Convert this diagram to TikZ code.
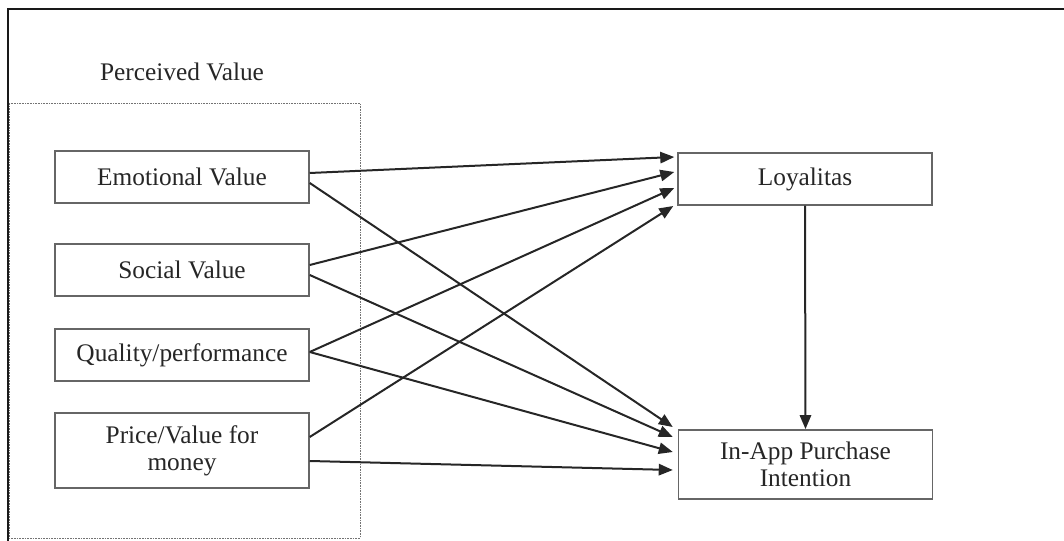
\documentclass[tikz,border=0pt]{standalone}
\usepackage{fontspec}
\setmainfont{Liberation Serif}
\usetikzlibrary{arrows.meta,calc}
\begin{document}
\begin{tikzpicture}[x=0.75pt,y=-0.75pt,
  every node/.style={font=\fontsize{19}{20.5}\selectfont, text=black!85},
  varbox/.style={draw=black!60, line width=1.1pt, minimum width=190.5pt,
    minimum height=39pt, inner sep=0pt, align=center},
  link/.style={draw=black!85, line width=1.5pt,
    -{Triangle[length=10.5pt,width=8.5pt]}},
  frameline/.style={draw=black!90, line width=1.4pt},
  groupbox/.style={draw=black!55, line width=0.5pt, dash pattern=on 1.2pt off 0.8pt}]
  \useasboundingbox (0,0) rectangle (1064,541);

  % outer frame (left and top edges)
  \draw[frameline] (8,541) -- (8,9) -- (1064,9);

  % perceived value group
  \draw[groupbox] (9,103) rectangle (360,538);
  \node (pvlabel) at (182,72) {Perceived Value};

  % dimensions of perceived value
  \node[varbox] (emo) at (182,177) {Emotional Value};
  \node[varbox] (soc) at (182,270) {Social Value};
  \node[varbox] (qual) at (182,355) {Quality/performance};
  \node[varbox, minimum height=56pt] (price) at (182,450.5) {Price/Value for\\money};

  % outcomes
  \node[varbox] (loy) at (805,179) {Loyalitas};
  \node[varbox, minimum height=52pt] (iapi) at (805.5,464.5) {In-App Purchase\\Intention};

  % paths to loyalty
  \draw[link] ($(emo.east)+(0,-4)$) -- ($(loy.west)+(-3,-22)$);
  \draw[link] ($(soc.east)+(0,-5)$) -- ($(loy.west)+(-3,-7)$);
  \draw[link] ($(qual.east)+(0,-3)$) -- ($(loy.west)+(-3,9)$);
  \draw[link] ($(price.east)+(0,-13.5)$) -- ($(loy.west)+(-4,27)$);

  % paths to in-app purchase intention
  \draw[link] ($(emo.east)+(0,6)$) -- ($(iapi.west)+(-5,-37.5)$);
  \draw[link] ($(soc.east)+(0,5)$) -- ($(iapi.west)+(-5,-27.5)$);
  \draw[link] ($(qual.east)+(0,-3)$) -- ($(iapi.west)+(-5,-12.5)$);
  \draw[link] ($(price.east)+(0,10.5)$) -- ($(iapi.west)+(-5,5.5)$);

  % loyalty to purchase intention
  \draw[link] (loy.south) -- (iapi.north);
\end{tikzpicture}
\end{document}
